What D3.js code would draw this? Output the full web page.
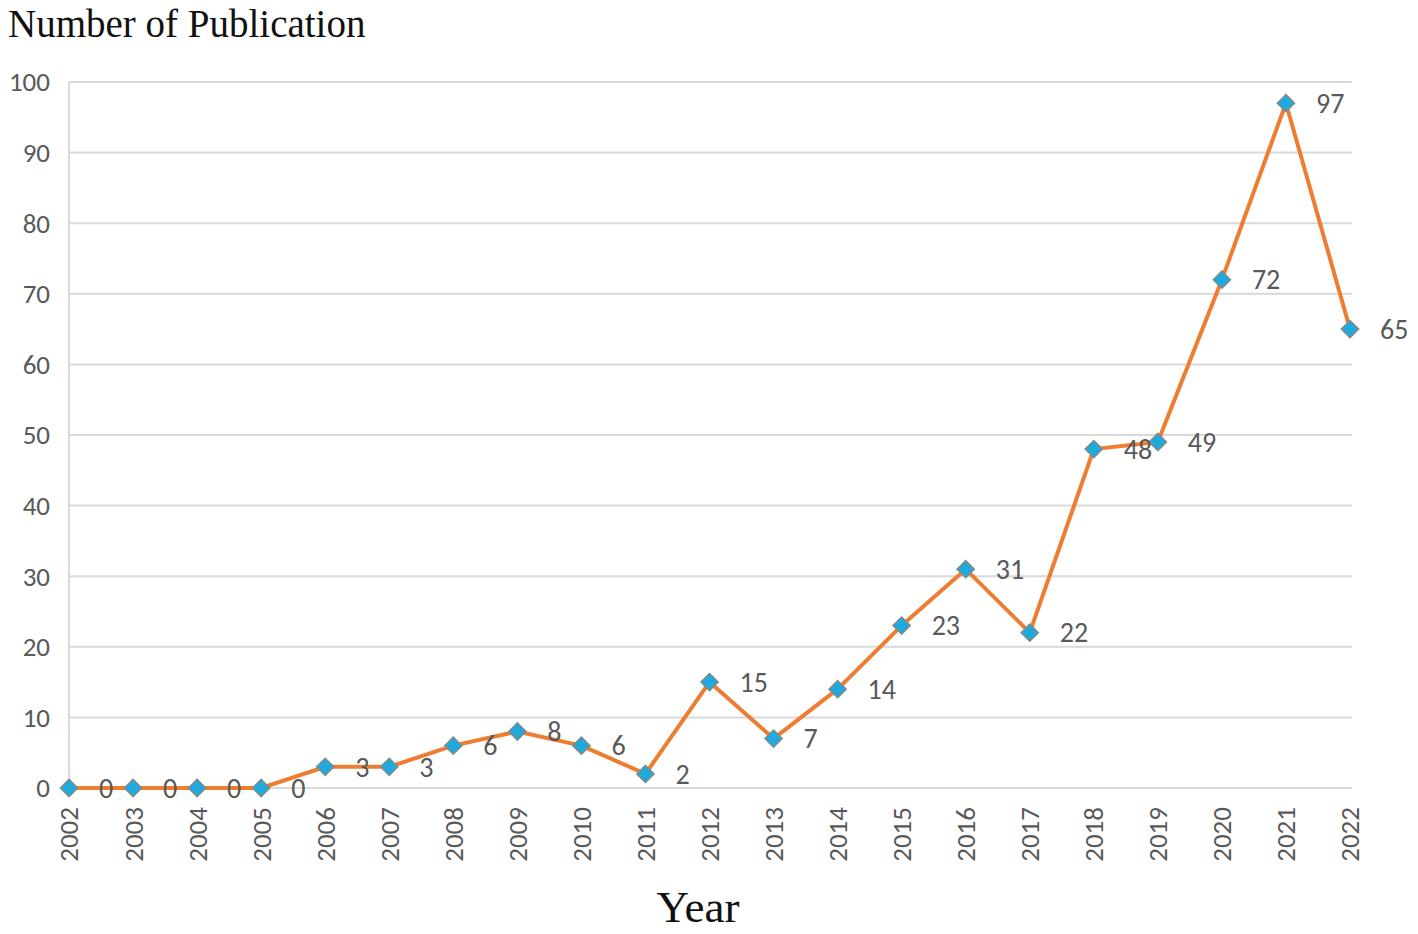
<!DOCTYPE html>
<html>
<head>
<meta charset="utf-8">
<script src="https://cdn.jsdelivr.net/npm/d3@7"></script>
<style>
  body { margin: 0; background: #fff; }
</style>
</head>
<body>
<div id="chart"></div>
<script>
const years = ["2002","2003","2004","2005","2006","2007","2008","2009","2010","2011","2012",
               "2013","2014","2015","2016","2017","2018","2019","2020","2021","2022"];
const publications = [0,0,0,0,3,3,6,8,6,2,15,7,14,23,31,22,48,49,72,97,65];
const yTicks = [0,10,20,30,40,50,60,70,80,90,100];

const COLORS = {
    line: "#ed7d31",
    marker: "#1fa9dc",
    markerStroke: "#7f8c8d",
    grid: "#d9d9d9",
    text: "#595959"
};

const width = 1418, height = 934;
const margin = { top: 82, right: 68, bottom: 146, left: 69 };

const svg = d3.select("#chart")
    .append("svg")
    .attr("width", width)
    .attr("height", height);

const x = d3.scalePoint()
    .domain(years)
    .range([margin.left, width - margin.right]);

const y = d3.scaleLinear()
    .domain([0, 100])
    .range([height - margin.bottom, margin.top]);

// gridlines
svg.append("g")
    .selectAll("line")
    .data(yTicks)
    .join("line")
    .attr("x1", margin.left)
    .attr("x2", width - margin.right + 2)
    .attr("y1", d => y(d))
    .attr("y2", d => y(d))
    .attr("stroke", COLORS.grid)
    .attr("stroke-width", 2);

// left axis line
svg.append("line")
    .attr("x1", margin.left).attr("x2", margin.left)
    .attr("y1", y(100)).attr("y2", y(0))
    .attr("stroke", COLORS.grid)
    .attr("stroke-width", 2);

// y tick labels
svg.append("g")
    .selectAll("text")
    .data(yTicks)
    .join("text")
    .attr("x", 50)
    .attr("y", d => y(d))
    .attr("dy", "0.35em")
    .attr("text-anchor", "end")
    .attr("fill", COLORS.text)
    .style("font-family", "Carlito, 'Open Sans', sans-serif")
    .style("font-size", "27px")
    .text(d => d);

// x tick labels, rotated
svg.append("g")
    .selectAll("text")
    .data(years)
    .join("text")
    .attr("transform", d => `translate(${x(d)},${y(0) + 19}) rotate(-90)`)
    .attr("dy", "0.35em")
    .attr("text-anchor", "end")
    .attr("fill", COLORS.text)
    .style("font-family", "Carlito, 'Open Sans', sans-serif")
    .style("font-size", "27px")
    .text(d => d);

// line
const line = d3.line()
    .x((d, i) => x(years[i]))
    .y(d => y(d));

svg.append("path")
    .datum(publications)
    .attr("d", line)
    .attr("fill", "none")
    .attr("stroke", COLORS.line)
    .attr("stroke-width", 4)
    .attr("stroke-linejoin", "round");

// diamond markers
svg.append("g")
    .selectAll("path")
    .data(publications)
    .join("path")
    .attr("transform", (d, i) => `translate(${x(years[i])},${y(d)})`)
    .attr("d", d3.symbol(d3.symbolDiamond2, 190))
    .attr("fill", COLORS.marker)
    .attr("stroke", COLORS.markerStroke)
    .attr("stroke-width", 1.5);

// data labels
svg.append("g")
    .selectAll("text")
    .data(publications)
    .join("text")
    .attr("x", (d, i) => x(years[i]) + 30)
    .attr("y", d => y(d))
    .attr("dy", "0.35em")
    .attr("fill", COLORS.text)
    .style("font-family", "Carlito, 'Open Sans', sans-serif")
    .style("font-size", "28px")
    .text(d => d);

// titles
svg.append("text")
    .attr("x", 8)
    .attr("y", 37)
    .attr("fill", "#111")
    .style("font-family", "'Liberation Serif', serif")
    .style("font-size", "39px")
    .text("Number of Publication");

svg.append("text")
    .attr("x", 698)
    .attr("y", 922)
    .attr("text-anchor", "middle")
    .attr("fill", "#111")
    .style("font-family", "'Liberation Serif', serif")
    .style("font-size", "45px")
    .text("Year");
</script>
</body>
</html>
